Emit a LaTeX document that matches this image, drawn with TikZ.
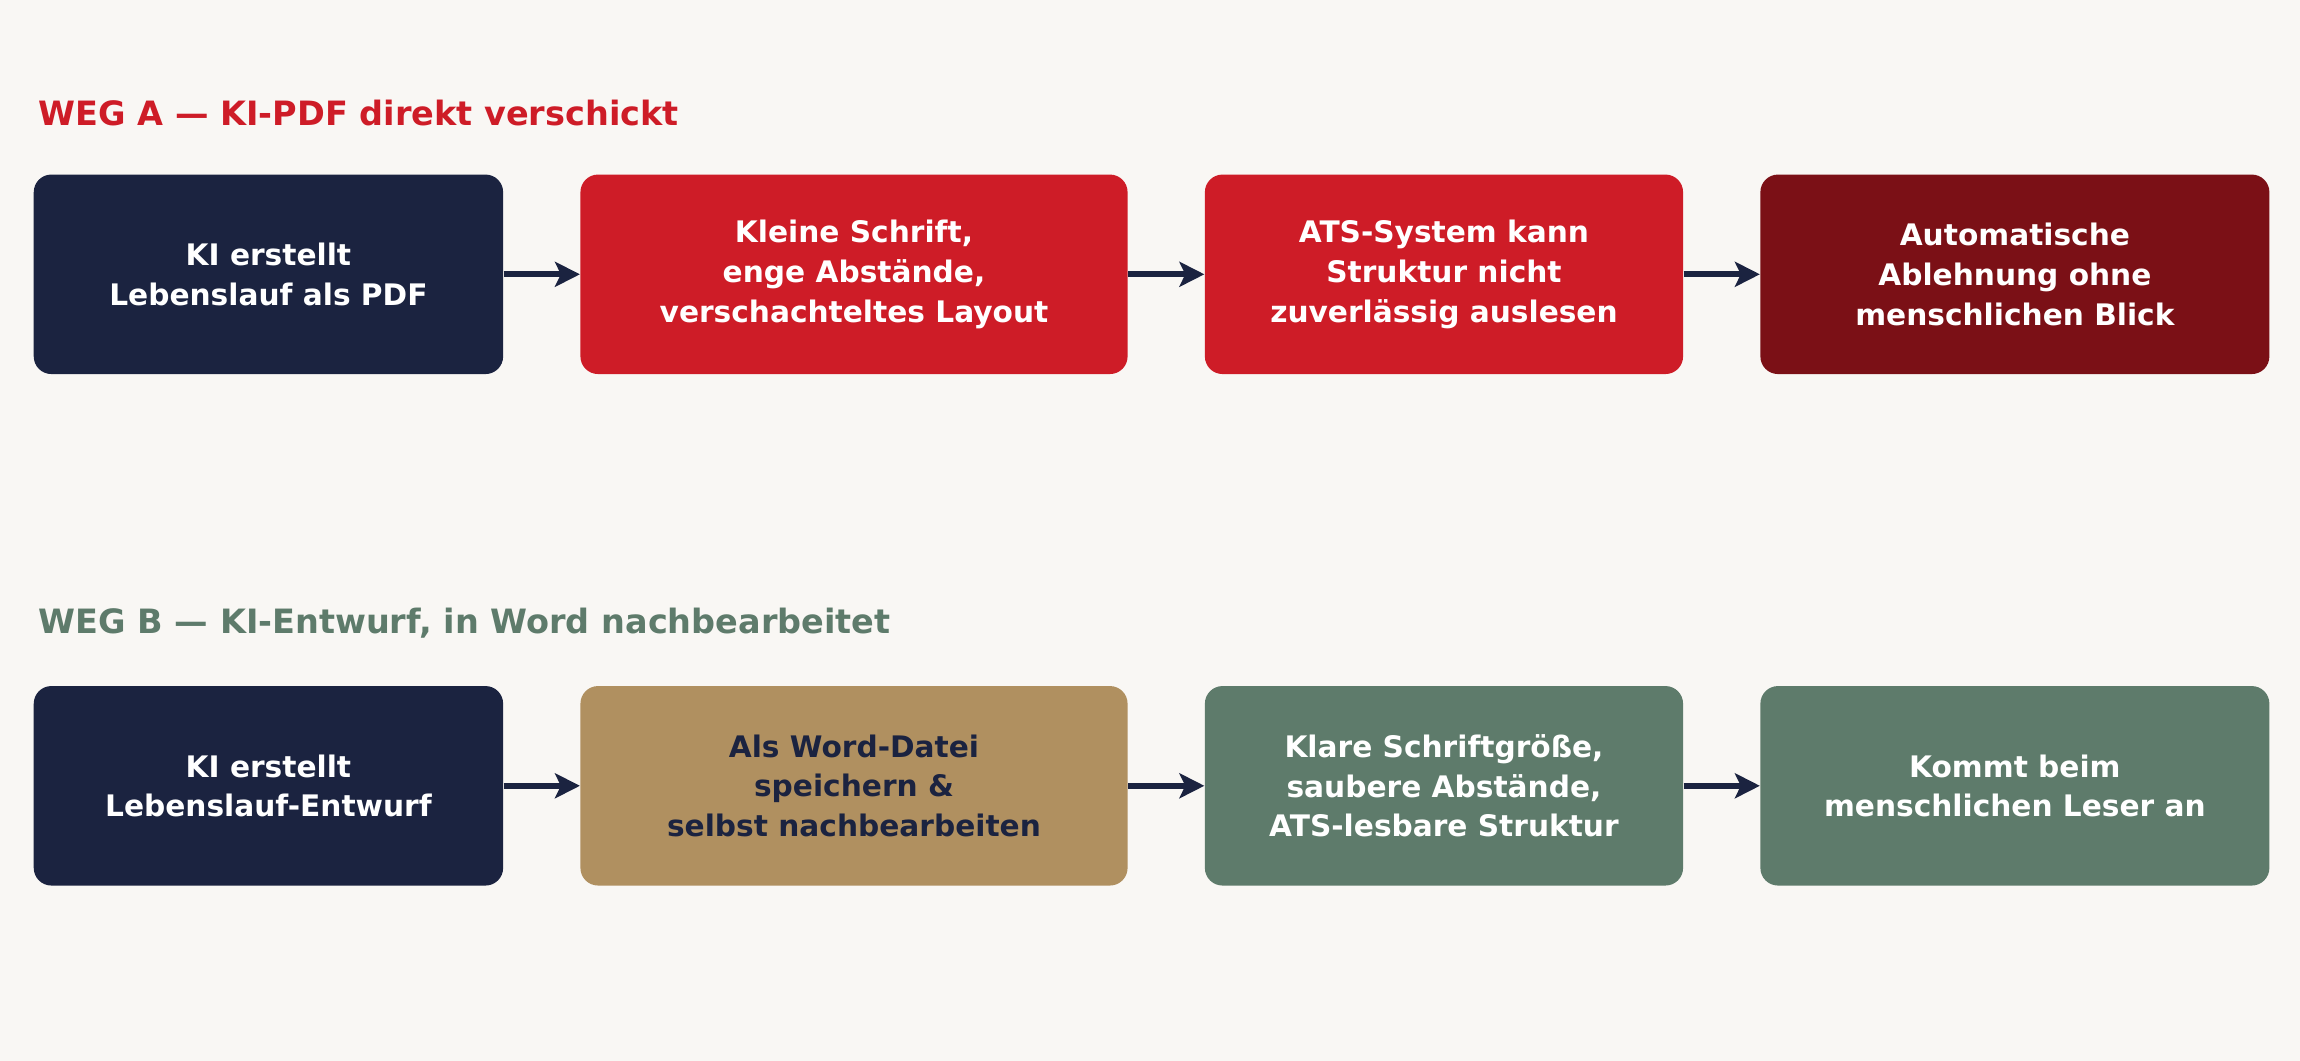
\documentclass[tikz,border=0pt]{standalone}
\usepackage{fontspec}
\setmainfont{DejaVu Sans}
\usetikzlibrary{positioning,arrows.meta}
\definecolor{bgc}{HTML}{F9F7F4}
\definecolor{navy}{HTML}{1B2340}
\definecolor{warnred}{HTML}{CE1C27}
\definecolor{darkred}{HTML}{7B1016}
\definecolor{tan}{HTML}{B09060}
\definecolor{sage}{HTML}{5E7B6B}
\tikzstyle{stage}=[rounded corners=0.24cm, minimum height=2.72cm, align=center, inner sep=0pt, font=\bfseries\fontsize{11.5}{15.4}\selectfont, text=white]
\tikzstyle{head}=[anchor=west, inner sep=0pt, font=\bfseries\fontsize{13}{15}\selectfont]
\tikzstyle{go}=[-{Stealth[length=0.34cm,width=0.34cm,inset=0.08cm]}, line width=0.08cm, draw=navy]
\begin{document}
\begin{tikzpicture}
	\fill[bgc] (0,0) rectangle (31.36,-14.46);
	\useasboundingbox (0,0) rectangle (31.36,-14.46);
	\node[head, text=warnred] (ta) at (0.52,-1.54) {WEG A — KI-PDF direkt verschickt};
	\node[stage, fill=navy, minimum width=6.4cm] (a1) at (3.66,-3.74) {KI erstellt\\Lebenslauf als PDF};
	\node[stage, fill=warnred, minimum width=7.46cm] (a2) [right = 1.04cm of a1] {Kleine Schrift,\\enge Abstände,\\verschachteltes Layout};
	\node[stage, fill=warnred, minimum width=6.52cm] (a3) [right = 1.04cm of a2] {ATS-System kann\\Struktur nicht\\zuverlässig auslesen};
	\node[stage, fill=darkred, minimum width=6.94cm] (a4) [right = 1.04cm of a3] {Automatische\\Ablehnung ohne\\menschlichen Blick};
	
	\node[head, text=sage] (tb) at (0.52,-8.5) {WEG B — KI-Entwurf, in Word nachbearbeitet};
	\node[stage, fill=navy, minimum width=6.4cm] (b1) [below = 4.24cm of a1] {KI erstellt\\Lebenslauf-Entwurf};
	\node[stage, fill=tan, text=navy, minimum width=7.46cm] (b2) [right = 1.04cm of b1] {Als Word-Datei\\speichern \&\\selbst nachbearbeiten};
	\node[stage, fill=sage, minimum width=6.52cm] (b3) [right = 1.04cm of b2] {Klare Schriftgröße,\\saubere Abstände,\\ATS-lesbare Struktur};
	\node[stage, fill=sage, minimum width=6.94cm] (b4) [right = 1.04cm of b3] {Kommt beim\\menschlichen Leser an};
	
	\draw[go] (a1) -- (a2);
	\draw[go] (a2) -- (a3);
	\draw[go] (a3) -- (a4);
	\draw[go] (b1) -- (b2);
	\draw[go] (b2) -- (b3);
	\draw[go] (b3) -- (b4);
\end{tikzpicture}
\end{document}
